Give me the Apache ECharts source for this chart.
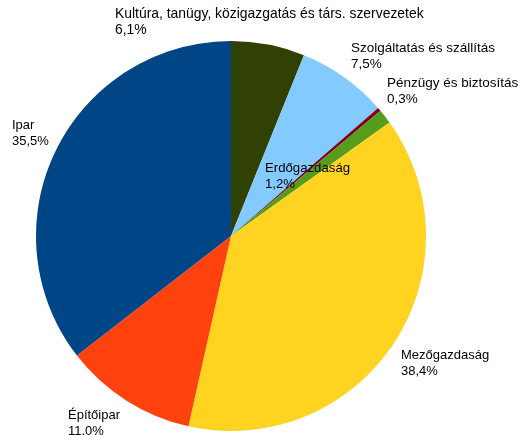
<!DOCTYPE html>
<html>
<head>
<meta charset="utf-8">
<script src="https://cdn.jsdelivr.net/npm/echarts@6/dist/echarts.min.js"></script>
<style>html,body{margin:0;padding:0;background:#fff}#c{width:521px;height:435px}</style>
</head>
<body>
<div id="c"></div>
<script>
const categories = ["Kultúra, tanügy, közigazgatás és társ. szervezetek", "Szolgáltatás és szállítás", "Pénzügy és biztosítás", "Erdőgazdaság", "Mezőgazdaság", "Építőipar", "Ipar"];
const values = [6.1, 7.5, 0.3, 1.2, 38.4, 11.0, 35.5];
const colors = ["#314004", "#83caff", "#7e0021", "#579d1c", "#ffd320", "#ff420e", "#004586"];
// label box top-left positions, by data index (layout only)
const labelPos = [[115, 6], [351, 40], [387, 75], [265, 160], [401, 347], [68, 407], [12, 117]];
const labelFont = [13.9, 13.5, 13.5, 13.2, 13, 13, 13];

const chart = echarts.init(document.getElementById('c'), null, {renderer: 'canvas'});
chart.setOption({
  animation: false,
  series: [{
    type: 'pie',
    center: [231, 236],
    radius: 195,
    startAngle: 90,
    clockwise: true,
    avoidLabelOverlap: false,
    silent: true,
    data: categories.map((n, i) => ({
      name: n, value: values[i],
      itemStyle: {color: colors[i]},
      label: {fontSize: labelFont[i]}
    })),
    itemStyle: {borderWidth: 0},
    label: {
      show: true,
      position: 'outside',
      fontFamily: 'Liberation Sans',
      fontSize: 13,
      lineHeight: 16,
      color: '#000',
      align: 'left',
      formatter: p => p.name + '\n' + p.value.toFixed(1).replace('.', ',') + '%'
    },
    labelLine: {show: false},
    labelLayout: function (params) {
      const pos = labelPos[params.dataIndex];
      return {x: pos[0], y: pos[1], align: 'left', verticalAlign: 'top'};
    }
  }]
});
</script>
</body>
</html>
